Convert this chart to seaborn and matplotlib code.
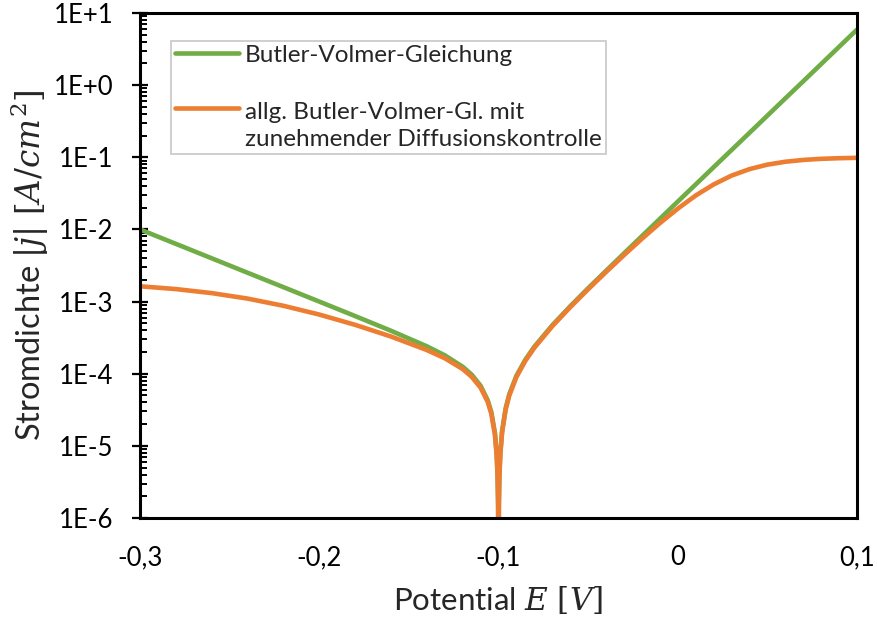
import numpy as np
import pandas as pd
import matplotlib
matplotlib.use("Agg")
import matplotlib.pyplot as plt
import seaborn as sns
from matplotlib.ticker import FixedLocator, LogLocator, FuncFormatter, NullFormatter

# ---- data ----
potential = [-0.3, -0.28, -0.26, -0.24, -0.22, -0.20, -0.18, -0.16, -0.14, -0.13,
             -0.12, -0.115, -0.11, -0.106, -0.104, -0.102, -0.101, -0.1005, -0.1002, -0.1,
             -0.0998, -0.0995, -0.099, -0.098, -0.096, -0.094, -0.09, -0.085, -0.08, -0.07,
             -0.06, -0.05, -0.04, -0.03, -0.02, -0.01, 0.0, 0.01, 0.02, 0.03,
             0.04, 0.05, 0.06, 0.07, 0.08, 0.09, 0.10]
bv = [1.0e-2, 6.31e-3, 3.98e-3, 2.51e-3, 1.585e-3, 1.0e-3, 6.30e-4, 3.94e-4, 2.40e-4, 1.80e-4,
      1.25e-4, 9.74e-5, 6.82e-5, 4.29e-5, 2.94e-5, 1.51e-5, 7.67e-6, 3.87e-6, 1.55e-6, 1e-7,
      1.56e-6, 3.93e-6, 7.92e-6, 1.61e-5, 3.33e-5, 5.19e-5, 9.38e-5, 1.57e-4, 2.37e-4, 4.69e-4,
      8.60e-4, 1.53e-3, 2.67e-3, 4.65e-3, 8.08e-3, 1.40e-2, 2.43e-2, 4.20e-2, 7.28e-2, 0.126,
      0.218, 0.378, 0.655, 1.13, 1.96, 3.40, 5.89]
bv_diff = [1.63e-3, 1.49e-3, 1.31e-3, 1.10e-3, 8.74e-4, 6.61e-4, 4.76e-4, 3.28e-4, 2.13e-4, 1.64e-4,
           1.16e-4, 9.08e-5, 6.40e-5, 4.05e-5, 2.78e-5, 1.43e-5, 7.28e-6, 3.67e-6, 1.48e-6, 1e-7,
           1.49e-6, 3.74e-6, 7.53e-6, 1.53e-5, 3.18e-5, 4.96e-5, 9.00e-5, 1.51e-4, 2.29e-4, 4.55e-4,
           8.35e-4, 1.48e-3, 2.57e-3, 4.40e-3, 7.42e-3, 1.22e-2, 1.94e-2, 2.95e-2, 4.20e-2, 5.57e-2,
           6.85e-2, 7.91e-2, 8.67e-2, 9.19e-2, 9.52e-2, 9.71e-2, 9.83e-2]
label_bv = "Butler-Volmer-Gleichung"
label_diff = "allg. Butler-Volmer-Gl. mit\nzunehmender Diffusionskontrolle"
x_ticks = [-0.3, -0.2, -0.1, 0.0, 0.1]
y_decades = [-6, -5, -4, -3, -2, -1, 0, 1]

sns.set_style("white")
plt.rcParams["font.family"] = ["Lato", "DejaVu Sans"]
plt.rcParams["mathtext.fontset"] = "dejavuserif"

fig = plt.figure(figsize=(8.77, 6.26), dpi=100)
ax = fig.add_axes([140 / 877, 108 / 626, 717 / 877, 505 / 626])

df_bv = pd.DataFrame({"E": potential, "j": bv})
df_diff = pd.DataFrame({"E": potential, "j": bv_diff})
sns.lineplot(data=df_bv, x="E", y="j", ax=ax, color="#70ad47", lw=3.3,
             label=label_bv, sort=False, estimator=None)
sns.lineplot(data=df_diff, x="E", y="j", ax=ax, color="#ed7d31", lw=3.3,
             label=label_diff, sort=False, estimator=None)

ax.set_yscale("log")
ax.set_xlim(-0.3, 0.1)
ax.set_ylim(10.0 ** y_decades[0], 10.0 ** y_decades[-1])

ax.xaxis.set_major_locator(FixedLocator(x_ticks))
ax.xaxis.set_major_formatter(FuncFormatter(
    lambda v, p: "0" if abs(v) < 1e-9 else f"{v:.1f}".replace(".", ",")))
ax.yaxis.set_major_locator(FixedLocator([10.0 ** k for k in y_decades]))
ax.yaxis.set_major_formatter(FuncFormatter(
    lambda v, p: f"1E{int(round(np.log10(v))):+d}"))
ax.yaxis.set_minor_locator(LogLocator(base=10, subs=np.arange(2, 10), numticks=20))
ax.yaxis.set_minor_formatter(NullFormatter())

for s in ax.spines.values():
    s.set_color("black")
    s.set_linewidth(2.2)

ax.tick_params(axis="x", which="major", direction="inout", length=13, width=1.6,
               labelsize=18.5, pad=13, colors="black")
ax.tick_params(axis="y", which="major", direction="inout", length=12, width=1.6,
               labelsize=18.5, pad=13, colors="black", left=True)
ax.tick_params(axis="y", which="minor", direction="in", length=5, width=1.4,
               left=True, color="black")

ax.set_xlabel(r"Potential $E\ [V]$", fontsize=22.5, labelpad=10)
ax.set_ylabel(r"Stromdichte $|j|\ [A/cm^2]$", fontsize=23.5, labelpad=2)

ls = 1.35
leg = ax.legend(loc="upper left", bbox_to_anchor=(31 / 717, 1 - 28 / 505),
                borderaxespad=0, fontsize=17.5, frameon=True, fancybox=False,
                edgecolor="#bfbfbf", handlelength=2.65, handletextpad=0.25,
                labelspacing=1.5, borderpad=0.15)
leg.get_frame().set_linewidth(1.3)
for t in leg.get_texts():
    t.set_linespacing(ls)
# put the orange handle next to the first line of its two-line label
h2 = leg.legend_handles[1]
h2.set_ydata(np.asarray(h2.get_ydata()) + 0.5 * ls * 1.2 * 17.5 - 1.5)

fig.savefig("out.png", dpi=100)
